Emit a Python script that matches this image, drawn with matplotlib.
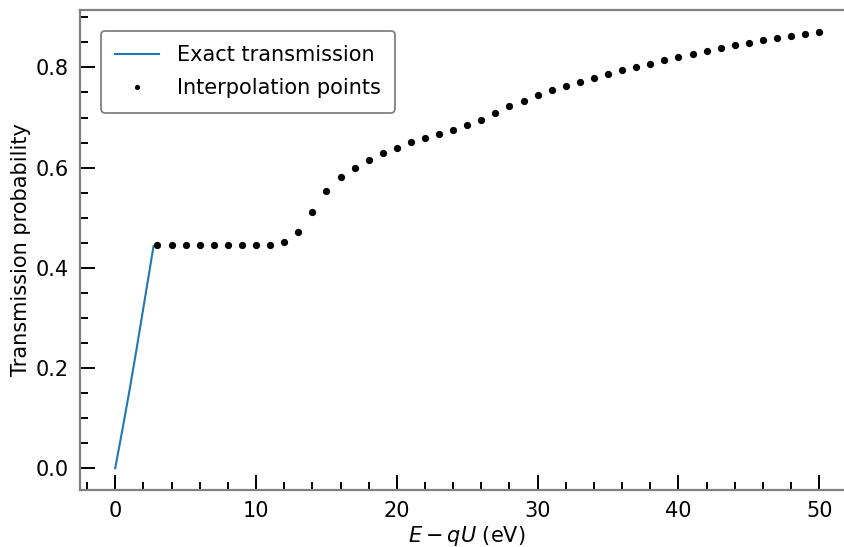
import numpy as np
import matplotlib
matplotlib.use("Agg")
import matplotlib.pyplot as plt
from matplotlib.ticker import MultipleLocator

# Exact transmission (blue line)
exact_e = [0.0, 0.5, 1.0, 1.5, 2.0, 2.5, 2.72]
exact_t = [0.0, 0.075, 0.153, 0.235, 0.32, 0.405, 0.443]

# Interpolation points (black dots), 1 eV spacing from 3 to 50
interp_e = list(range(3, 51))
interp_t = [0.445, 0.445, 0.445, 0.445, 0.445, 0.445, 0.445, 0.445, 0.445,
            0.451, 0.472, 0.511, 0.553, 0.582, 0.599, 0.615, 0.629, 0.640,
            0.651, 0.660, 0.668, 0.675, 0.685, 0.696, 0.709, 0.723, 0.733,
            0.744, 0.754, 0.763, 0.771, 0.779, 0.787, 0.794, 0.800, 0.807,
            0.814, 0.820, 0.827, 0.833, 0.838, 0.844, 0.849, 0.854, 0.859,
            0.863, 0.867, 0.871]

x_ticks = [0, 10, 20, 30, 40, 50]
y_ticks = [0.0, 0.2, 0.4, 0.6, 0.8]

plt.rcParams['font.family'] = ['DejaVu Sans']
plt.rcParams['font.size'] = 15

fig = plt.figure(figsize=(8.45, 5.47), dpi=100)
ax = fig.add_axes([80/845, 57/547, (854.5-80)/845, (490-10)/547])

ax.plot(exact_e, exact_t, color='#1f77b4', lw=1.5, label='Exact transmission')
ax.plot(interp_e, interp_t, 'o', color='black', ms=4.2, ls='none',
        label='Interpolation points')

ax.set_xlim(-2.5, 52.5)
ax.set_ylim(-0.0436, 0.9146)
ax.set_xticks(x_ticks)
ax.set_yticks(y_ticks)
ax.set_yticklabels([f"{v:.1f}" for v in y_ticks])
ax.xaxis.set_minor_locator(MultipleLocator(2))
ax.yaxis.set_minor_locator(MultipleLocator(0.05))

ax.tick_params(which='major', direction='in', length=11, width=1.4,
               labelsize=15, color='black', pad=8)
ax.tick_params(which='minor', direction='in', length=5.5, width=1.4,
               color='black')
for s in ['left', 'bottom', 'top', 'right']:
    ax.spines[s].set_color('#808080')
    ax.spines[s].set_linewidth(1.6)

ax.set_xlabel('$E - qU$ (eV)', fontsize=15, labelpad=2)
ax.set_ylabel('Transmission probability', fontsize=15, labelpad=3)

leg = ax.legend(loc='upper left', fontsize=15, markerscale=0.65,
                handlelength=2.1, borderpad=0.7, labelspacing=0.6,
                handletextpad=0.85, fancybox=True, framealpha=1.0,
                borderaxespad=1.0)
leg.get_frame().set_edgecolor('#808080')
leg.get_frame().set_linewidth(1.3)

fig.savefig('out.png', dpi=100)
